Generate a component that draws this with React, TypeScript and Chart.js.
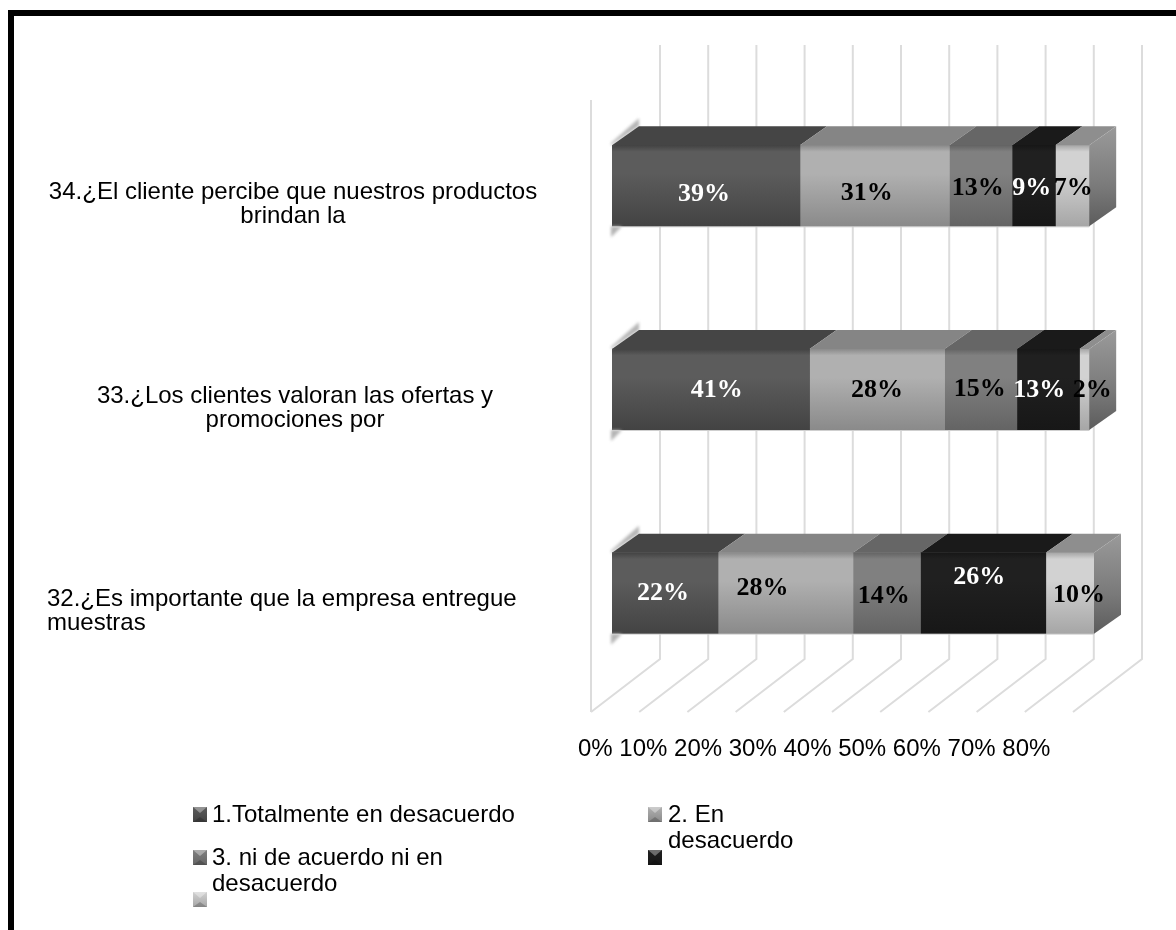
import React, { useEffect, useRef } from "react";
import { Chart, registerables } from "chart.js";

Chart.register(...registerables);

// Survey questions, top to bottom.
const categories = [
  ["34.¿El cliente percibe que nuestros productos", "brindan la"],
  ["33.¿Los clientes valoran las ofertas y", "promociones por"],
  ["32.¿Es importante que la empresa entregue", "muestras"],
];

const totalmenteEnDesacuerdo = [39, 41, 22];
const enDesacuerdo = [31, 28, 28];
const niDeAcuerdo = [13, 15, 14];
const serieCuatro = [9, 13, 26];
const serieCinco = [7, 2, 10];

const axisLabels = ["0%", "10%", "20%", "30%", "40%", "50%", "60%", "70%", "80%"];
const gridValues = [0, 10, 20, 30, 40, 50, 60, 70, 80, 90, 100];

const legendFirst = ["1.Totalmente en desacuerdo"];
const legendSecond = ["2. En", "desacuerdo"];
const legendThird = ["3. ni de acuerdo ni en", "desacuerdo"];

const SANS = '"Liberation Sans", Arial, sans-serif';
const SERIF = '"Liberation Serif", "Times New Roman", serif';

// Pseudo-3D extrusion of the bars.
const DEPTH_X = 27;
const DEPTH_Y = 19;
const BAR_H = 81;

type Look = { light: string; dark: string; top: string; labelColors: string[]; nudge: number[][] };

const looks: Look[] = [
  { light: "#5c5c5c", dark: "#434343", top: "#454545", labelColors: ["#fff", "#fff", "#fff"], nudge: [[-2, 8], [6, 1], [-2, 0]] },
  { light: "#b0b0b0", dark: "#8a8a8a", top: "#858585", labelColors: ["#000", "#000", "#000"], nudge: [[-8, 7], [0, 1], [-23, -5]] },
  { light: "#808080", dark: "#646464", top: "#666666", labelColors: ["#000", "#000", "#000"], nudge: [[-3, 2], [-1, 0], [-3, 3]] },
  { light: "#202020", dark: "#171717", top: "#1a1a1a", labelColors: ["#fff", "#fff", "#fff"], nudge: [[-2, 2], [-9, 1], [-4, -16]] },
  { light: "#d2d2d2", dark: "#a6a6a6", top: "#8e8e8e", labelColors: ["#000", "#000", "#000"], nudge: [[1, 2], [8, 1], [9, 2]] },
];

const seriesValues = [totalmenteEnDesacuerdo, enDesacuerdo, niDeAcuerdo, serieCuatro, serieCinco];

const drawMarker = (ctx: CanvasRenderingContext2D, x: number, y: number, look: Look) => {
  const w = 14;
  const h = 15;
  const g = ctx.createLinearGradient(0, y, 0, y + h);
  g.addColorStop(0, look.light);
  g.addColorStop(1, look.dark);
  ctx.fillStyle = g;
  ctx.fillRect(x, y, w, h);
  // bevel on the upper edge
  ctx.fillStyle = "rgba(255,255,255,0.35)";
  ctx.beginPath();
  ctx.moveTo(x, y);
  ctx.lineTo(x + w, y);
  ctx.lineTo(x + w / 2, y + 6);
  ctx.closePath();
  ctx.fill();
  ctx.fillStyle = "rgba(0,0,0,0.2)";
  ctx.beginPath();
  ctx.moveTo(x, y + h);
  ctx.lineTo(x + w, y + h);
  ctx.lineTo(x + w / 2, y + h - 5);
  ctx.closePath();
  ctx.fill();
};

const wallPlugin = {
  id: "wall",
  beforeDatasetsDraw(chart: any) {
    const { ctx, scales } = chart;
    const xs = scales.x;
    const floorFrontY = 712;
    const floorBackY = 659;
    ctx.save();
    ctx.lineWidth = 2;
    ctx.strokeStyle = "#dcdcdc";
    gridValues.forEach((v) => {
      const px = xs.getPixelForValue(v);
      const front = px - 21;
      const back = px + 48;
      ctx.beginPath();
      ctx.moveTo(front, floorFrontY);
      ctx.lineTo(back, floorBackY);
      ctx.lineTo(back, 45);
      ctx.stroke();
    });
    // left edge of the wall
    ctx.beginPath();
    ctx.moveTo(xs.getPixelForValue(0) - 21, 100);
    ctx.lineTo(xs.getPixelForValue(0) - 21, 712);
    ctx.stroke();
    ctx.restore();
  },
};

const extrusionPlugin = {
  id: "extrusion",
  afterDatasetsDraw(chart: any) {
    const { ctx } = chart;
    const metas = chart.getSortedVisibleDatasetMetas();
    ctx.save();
    // soft edge at the near-left corner of each bar
    ctx.filter = "blur(1.5px)";
    metas[0].data.forEach((bar: any) => {
      const { base, y, height } = bar.getProps(["base", "y", "height"], true);
      const t = y - height / 2;
      const b = y + height / 2;
      ctx.fillStyle = "#b4b4b4";
      ctx.beginPath();
      ctx.moveTo(base - 1, t);
      ctx.lineTo(base + DEPTH_X, t - DEPTH_Y);
      ctx.lineTo(base + DEPTH_X, t - DEPTH_Y - 8);
      ctx.lineTo(base - 1, t - 2);
      ctx.closePath();
      ctx.fill();
      ctx.beginPath();
      ctx.moveTo(base - 1, b);
      ctx.lineTo(base + 10, b);
      ctx.lineTo(base - 1, b + 11);
      ctx.closePath();
      ctx.fill();
    });
    ctx.filter = "none";
    metas.forEach((meta: any, si: number) => {
      meta.data.forEach((bar: any) => {
        const { x, base, y, height } = bar.getProps(["x", "base", "y", "height"], true);
        const t = y - height / 2;
        ctx.fillStyle = looks[si].top;
        ctx.beginPath();
        ctx.moveTo(base, t);
        ctx.lineTo(x, t);
        ctx.lineTo(x + DEPTH_X, t - DEPTH_Y);
        ctx.lineTo(base + DEPTH_X, t - DEPTH_Y);
        ctx.closePath();
        ctx.fill();
      });
    });
    // right-hand face closes the stack
    metas[metas.length - 1].data.forEach((bar: any) => {
      const { x, y, height } = bar.getProps(["x", "y", "height"], true);
      const t = y - height / 2;
      const b = y + height / 2;
      const g = ctx.createLinearGradient(0, t - DEPTH_Y, 0, b);
      g.addColorStop(0, "#9a9a9a");
      g.addColorStop(0.6, "#7a7a7a");
      g.addColorStop(1, "#5c5c5c");
      ctx.fillStyle = g;
      ctx.beginPath();
      ctx.moveTo(x, t);
      ctx.lineTo(x + DEPTH_X, t - DEPTH_Y);
      ctx.lineTo(x + DEPTH_X, b - DEPTH_Y);
      ctx.lineTo(x, b);
      ctx.closePath();
      ctx.fill();
    });
    metas[0].data.forEach((bar: any, i: number) => {
      const last = metas[metas.length - 1].data[i];
      const { base, y, height } = bar.getProps(["base", "y", "height"], true);
      const { x } = last.getProps(["x"], true);
      ctx.strokeStyle = "#cfcfcf";
      ctx.lineWidth = 1;
      ctx.beginPath();
      ctx.moveTo(base, y + height / 2 + 0.5);
      ctx.lineTo(x, y + height / 2 + 0.5);
      ctx.stroke();
    });
    ctx.restore();
  },
};

const labelsPlugin = {
  id: "textLayer",
  afterDraw(chart: any) {
    const { ctx, scales } = chart;
    ctx.save();

    // value labels, from each bar's own value
    ctx.font = `bold 26px ${SERIF}`;
    ctx.textAlign = "center";
    ctx.textBaseline = "middle";
    chart.getSortedVisibleDatasetMetas().forEach((meta: any, si: number) => {
      meta.data.forEach((bar: any, i: number) => {
        const { x, base, y } = bar.getProps(["x", "base", "y"], true);
        const [dx, dy] = looks[si].nudge[i];
        ctx.fillStyle = looks[si].labelColors[i];
        ctx.fillText(`${seriesValues[si][i]}%`, (x + base) / 2 + dx, y + dy);
      });
    });

    // question labels
    ctx.fillStyle = "#000";
    ctx.font = `24px ${SANS}`;
    ctx.textBaseline = "alphabetic";
    categories.forEach((lines, i) => {
      const c = scales.y.getPixelForTick(i);
      lines.forEach((line, li) => {
        if (i === 2) {
          ctx.textAlign = "left";
          ctx.fillText(line, 47, c + 13 + li * 24);
        } else {
          ctx.textAlign = "center";
          ctx.fillText(line, i === 0 ? 293 : 295, c + 13 + li * 24);
        }
      });
    });

    // axis caption row
    ctx.textAlign = "left";
    ctx.fillText(axisLabels.join(" "), 578, 756);

    // legend
    const row = (lines: string[], x: number, ys: number[]) =>
      lines.forEach((l, i) => ctx.fillText(l, x, ys[i]));
    row(legendFirst, 212, [822]);
    row(legendSecond, 668, [822, 848]);
    row(legendThird, 212, [865, 891]);
    drawMarker(ctx, 193, 807, looks[0]);
    drawMarker(ctx, 648, 807, looks[1]);
    drawMarker(ctx, 193, 850, looks[2]);
    drawMarker(ctx, 648, 850, looks[3]);
    drawMarker(ctx, 193, 892, looks[4]);
    ctx.restore();
  },
};

export default function App() {
  const canvasRef = useRef<HTMLCanvasElement | null>(null);

  useEffect(() => {
    const canvas = canvasRef.current;
    if (!canvas) return;
    // Front-face shading per bar; the scale has no pixels until the first layout.
    const frontFace = (si: number) => (c: any) => {
      const { chart, dataIndex } = c;
      const ys = chart.scales?.y;
      const mid = ys && dataIndex !== undefined ? ys.getPixelForValue(dataIndex) : NaN;
      if (!Number.isFinite(mid)) return looks[si].light;
      const g = chart.ctx.createLinearGradient(0, mid - BAR_H / 2, 0, mid + BAR_H / 2);
      g.addColorStop(0, looks[si].dark);
      g.addColorStop(0.08, looks[si].light);
      g.addColorStop(0.35, looks[si].light);
      g.addColorStop(1, looks[si].dark);
      return g;
    };
    const chart = new Chart(canvas, {
      type: "bar",
      data: {
        labels: categories.map((l) => l.join(" ")),
        datasets: seriesValues.map((data, si) => ({
          label: [legendFirst, legendSecond, legendThird, [""], [""]][si].join(" "),
          data,
          backgroundColor: frontFace(si),
          borderWidth: 0,
          barThickness: BAR_H,
        })),
      },
      options: {
        indexAxis: "y",
        animation: false,
        responsive: false,
        layout: { padding: { left: 612, right: 82, top: 84, bottom: 235 } },
        plugins: { legend: { display: false }, tooltip: { enabled: false }, title: { display: false } },
        scales: {
          x: { stacked: true, min: 0, max: 100, display: false },
          y: { stacked: true, display: false },
        },
      },
      plugins: [wallPlugin, extrusionPlugin, labelsPlugin],
    } as any);
    return () => chart.destroy();
  }, []);

  return (
    <div style={{ position: "absolute", left: 0, top: 0, width: 1176, height: 930, background: "#fff", overflow: "hidden" }}>
      <canvas ref={canvasRef} width={1176} height={930} style={{ position: "absolute", left: 0, top: 0 }} />
      <div style={{ position: "absolute", left: 8, top: 10, width: 1168, height: 6, background: "#000" }} />
      <div style={{ position: "absolute", left: 8, top: 10, width: 6, height: 920, background: "#000" }} />
    </div>
  );
}
